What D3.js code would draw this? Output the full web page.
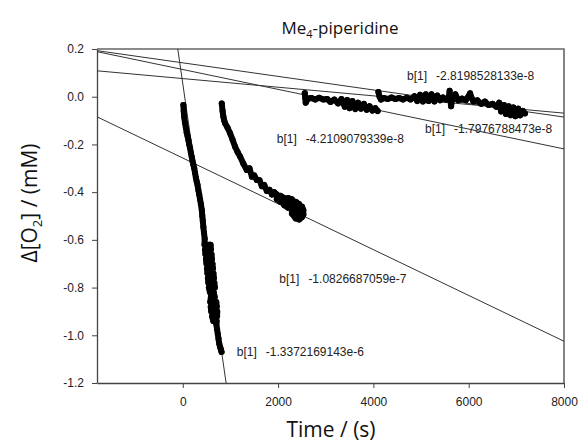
<!DOCTYPE html>
<html>
<head>
<meta charset="utf-8">
<script src="https://cdn.jsdelivr.net/npm/d3@7"></script>
<style>
  body { margin: 0; background: #fff; }
</style>
</head>
<body>
<div id="chart"></div>
<script>
// ticks
const xTicks = [0, 2000, 4000, 6000, 8000];
const yTicks = [-1.2, -1.0, -0.8, -0.6, -0.4, -0.2, 0.0, 0.2];

// linear fits: y = a + b*t  (mM, s)
const fitIntercepts = [0.055, -0.257, 0.114, 0.142, 0.076];
const fitSlopes = [-1.38e-3, -9.6e-5, -4.16e-5, -2.84e-5, -1.81e-5];
const fitLabels = ["-1.3372169143e-6", "-1.0826687059e-7", "-4.2109079339e-8", "-2.8198528133e-8", "-1.7976788473e-8"];

// measured runs [time, dO2], listed in sweep order
const runA = [
  [13, -0.035], [20, -0.06], [30, -0.085], [48, -0.11], [65, -0.13], [82, -0.15], [100, -0.165],
  [118, -0.181], [135, -0.2], [153, -0.215], [170, -0.235], [189, -0.253], [205, -0.27],
  [222, -0.285], [240, -0.3], [258, -0.32], [275, -0.34], [292, -0.355], [310, -0.37],
  [327, -0.391], [345, -0.41], [362, -0.43], [380, -0.45], [399, -0.475], [410, -0.5],
  [420, -0.52], [432, -0.546], [445, -0.57], [460, -0.595],
  [456, -0.62], [582, -0.62], [592, -0.64], [466, -0.64], [476, -0.66], [602, -0.66],
  [612, -0.68], [486, -0.68], [497, -0.7], [623, -0.7], [633, -0.72], [507, -0.72],
  [517, -0.74], [643, -0.74], [653, -0.76], [527, -0.76], [537, -0.78], [663, -0.78],
  [673, -0.8], [547, -0.8], [570, -0.82], [650, -0.82], [670, -0.84], [590, -0.84],
  [577, -0.86], [703, -0.86], [713, -0.88], [587, -0.88], [597, -0.9], [723, -0.9],
  [720, -0.92], [615, -0.92], [640, -0.94], [710, -0.94],
  [705, -0.955], [720, -0.975], [735, -0.995], [750, -1.015], [765, -1.035], [785, -1.05],
  [800, -1.06], [814, -1.07]
];
const runB = [
  [818, -0.028], [835, -0.06], [852, -0.084], [870, -0.1], [888, -0.111], [940, -0.13],
  [993, -0.153], [1045, -0.18], [1098, -0.21], [1150, -0.232], [1203, -0.251], [1270, -0.28],
  [1343, -0.307], [1400, -0.3], [1450, -0.335], [1500, -0.33], [1553, -0.349], [1610, -0.35],
  [1660, -0.375], [1710, -0.37], [1763, -0.395], [1820, -0.39], [1870, -0.41], [1920, -0.4],
  [1973, -0.41], [1973, -0.43], [2050, -0.44], [2050, -0.415], [2130, -0.425], [2130, -0.455],
  [2210, -0.465], [2210, -0.425], [2290, -0.43], [2290, -0.49], [2370, -0.51], [2370, -0.44],
  [2440, -0.45], [2440, -0.515], [2500, -0.505], [2500, -0.46], [2530, -0.475], [2530, -0.495]
];
const runC = [
  [2560, 0.015], [2570, -0.005], [2580, -0.025], [2620, -0.01], [2700, -0.005], [2780, -0.012],
  [2860, -0.004], [2950, -0.012], [3030, -0.01], [3100, -0.022], [3180, -0.012], [3260, -0.028],
  [3330, -0.01], [3400, -0.042], [3450, -0.014], [3500, -0.048], [3560, -0.018], [3620, -0.052],
  [3680, -0.025], [3740, -0.05], [3800, -0.03], [3860, -0.055], [3920, -0.04], [3980, -0.058],
  [4040, -0.048], [4090, -0.06]
];
const runD = [
  [4105, 0.02], [4130, 0.0], [4160, -0.012], [4220, -0.005], [4300, -0.01], [4380, -0.003],
  [4460, -0.01], [4540, -0.005], [4620, -0.012], [4700, -0.004], [4780, -0.012], [4860, 0.002],
  [4920, -0.018], [4980, 0.008], [5040, -0.02], [5100, 0.01], [5160, -0.018], [5220, 0.01],
  [5280, -0.02], [5340, 0.005], [5400, -0.015], [5460, -0.003], [5520, -0.012], [5580, -0.005],
  [5600, 0.025], [5610, 0.005], [5620, -0.02], [5630, -0.04], [5660, -0.005], [5720, 0.01],
  [5780, -0.015], [5860, -0.008], [5940, -0.015], [6030, 0.014], [6060, -0.005], [6100, -0.02],
  [6180, -0.015], [6260, -0.03], [6340, -0.02], [6420, -0.035], [6500, -0.03], [6580, -0.042],
  [6640, -0.025], [6680, -0.062], [6740, -0.035], [6780, -0.072], [6840, -0.04], [6880, -0.078],
  [6940, -0.045], [6980, -0.082], [7040, -0.05], [7080, -0.078], [7140, -0.06], [7180, -0.07]
];
const runs = [runA, runB, runC, runD];

const svgObject = {
  width: 579,
  height: 445,
  margin: { left: 97, right: 15, top: 49, bottom: 62 },

  renderSvg(id) {
    d3.select(`#${id}`).selectAll("*").remove();
    let svg = d3.select(`#${id}`).append("svg");
    svg.attr("width", this.width).attr("height", this.height);
    let innerWidth = this.width - this.margin.left - this.margin.right;
    let innerHeight = this.height - this.margin.top - this.margin.bottom;
    const g = svg.append("g")
      .attr("transform", `translate(${this.margin.left},${this.margin.top})`);
    return { svg, g, innerWidth, innerHeight };
  },
};

function draw() {
  const { svg, g, innerWidth, innerHeight } = svgObject.renderSvg("chart");

  const xScale = d3.scaleLinear().domain([-1800, 8000]).range([0, innerWidth]);
  const yScale = d3.scaleLinear().domain([-1.2, 0.2]).range([innerHeight, 0]);

  svg.append("defs").append("clipPath").attr("id", "plot")
    .append("rect").attr("width", innerWidth).attr("height", innerHeight);

  const tickFont = "'Liberation Sans', Arial, sans-serif";
  const titleFont = "'Open Sans', 'Noto Sans', sans-serif";
  const fmt = (d) => d3.format(".1f")(d).replace("\u2212", "-");

  // axes
  const yAxis = g.append("g")
    .call(d3.axisLeft(yScale).tickValues(yTicks).tickFormat(fmt).tickSize(5).tickPadding(8).tickSizeOuter(0));
  const xAxis = g.append("g")
    .attr("transform", `translate(0,${innerHeight})`)
    .call(d3.axisBottom(xScale).tickValues(xTicks).tickFormat(d3.format("d")).tickSize(5).tickPadding(9).tickSizeOuter(0));
  [yAxis, xAxis].forEach((ax) => {
    ax.select(".domain").attr("stroke", "#444").attr("stroke-width", 1.3);
    ax.selectAll(".tick line").attr("stroke", "#444");
    ax.selectAll("text").attr("font-family", tickFont).attr("font-size", 12).attr("fill", "#222");
  });

  // top and right frame
  g.append("path")
    .attr("d", `M0,0H${innerWidth}V${innerHeight}`)
    .attr("fill", "none").attr("stroke", "#666").attr("stroke-width", 1.6);

  const plot = g.append("g").attr("clip-path", "url(#plot)");

  // fit lines
  const [t0, t1] = xScale.domain();
  plot.selectAll(".fit")
    .data(fitSlopes)
    .join("line")
    .attr("class", "fit")
    .attr("x1", xScale(t0))
    .attr("y1", (b, i) => yScale(fitIntercepts[i] + b * t0))
    .attr("x2", xScale(t1))
    .attr("y2", (b, i) => yScale(fitIntercepts[i] + b * t1))
    .attr("stroke", "#333")
    .attr("stroke-width", 1);

  // data runs (dense markers merge into a band)
  const line = d3.line().x((d) => xScale(d[0])).y((d) => yScale(d[1]));
  plot.selectAll(".run")
    .data(runs)
    .join("path")
    .attr("class", "run")
    .attr("d", line)
    .attr("fill", "none")
    .attr("stroke", "#000")
    .attr("stroke-width", 6)
    .attr("stroke-linejoin", "round")
    .attr("stroke-linecap", "round");
  plot.selectAll(".pt")
    .data(runs.flat())
    .join("circle")
    .attr("class", "pt")
    .attr("cx", (d) => xScale(d[0]))
    .attr("cy", (d) => yScale(d[1]))
    .attr("r", 3)
    .attr("fill", "#000");

  // fit annotations (anchor in data units)
  const labelAnchors = [[1133, -1.088], [2027, -0.781], [1973, -0.194], [4707, 0.07], [5085, -0.154]];
  const lab = g.selectAll(".lab")
    .data(fitLabels)
    .join("text")
    .attr("class", "lab")
    .attr("x", (d, i) => xScale(labelAnchors[i][0]))
    .attr("y", (d, i) => yScale(labelAnchors[i][1]))
    .attr("font-family", tickFont)
    .attr("font-size", 12)
    .attr("fill", "#222");
  lab.append("tspan").text("b[1]");
  lab.append("tspan").attr("dx", 9).text((d) => d);

  // title
  const title = svg.append("text")
    .attr("x", 340).attr("y", 34)
    .attr("text-anchor", "middle")
    .attr("font-family", titleFont)
    .attr("font-size", 17)
    .attr("fill", "#111");
  title.append("tspan").text("Me");
  title.append("tspan").attr("font-size", 11).attr("dy", 4).text("4");
  title.append("tspan").attr("dy", -4).text("-piperidine");

  // axis titles
  svg.append("text")
    .attr("x", 331).attr("y", 437)
    .attr("text-anchor", "middle")
    .attr("font-family", titleFont)
    .attr("font-size", 21)
    .attr("fill", "#111")
    .text("Time / (s)");

  const yTitle = svg.append("text")
    .attr("transform", `translate(37,203) rotate(-90)`)
    .attr("text-anchor", "middle")
    .attr("font-family", titleFont)
    .attr("font-size", 21)
    .attr("fill", "#111");
  yTitle.append("tspan").text("\u0394[O");
  yTitle.append("tspan").attr("font-size", 13).attr("dy", 5).text("2");
  yTitle.append("tspan").attr("dy", -5).text("] / (mM)");
}
draw();
</script>
</body>
</html>
